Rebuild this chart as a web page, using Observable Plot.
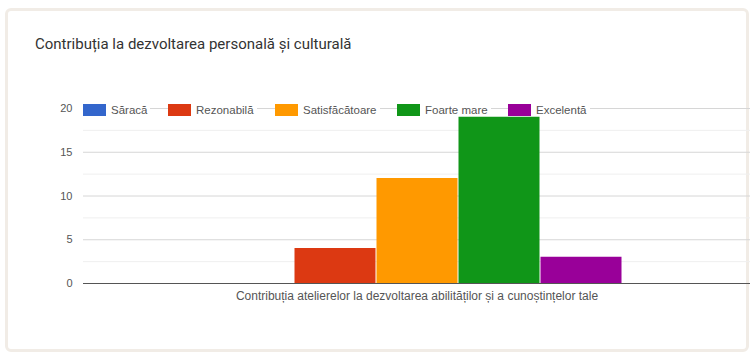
<!DOCTYPE html>
<html>
<head>
<meta charset="utf-8">
<script src="https://cdn.jsdelivr.net/npm/d3@7"></script>
<script src="https://cdn.jsdelivr.net/npm/@observablehq/plot@0.6"></script>
<style>
  html, body { margin: 0; padding: 0; background: #fff; width: 755px; height: 355px; overflow: hidden; font-family: Roboto, "Noto Sans", sans-serif; }
  #card { position: absolute; left: 5px; top: 8px; width: 738px; height: 338px; border: 3px solid #f1ece6; border-radius: 6px; background: #fff; }
  #title { position: absolute; left: 35px; top: 35px; font-size: 15px; color: #333; white-space: nowrap; z-index: 3; }
  #chart { position: absolute; left: 0; top: 0; z-index: 2; }
  #legend { position: absolute; top: 104px; left: 0; z-index: 4; font-size: 11.5px; color: #555; font-family: "Liberation Sans", Arial, sans-serif; }
  .item { position: absolute; display: flex; align-items: center; background: #fff; padding-right: 3px; white-space: nowrap; }
  .sw { width: 23px; height: 12px; margin-right: 5px; }
</style>
</head>
<body>
<div id="card"></div>
<div id="title">Contribuția la dezvoltarea personală și culturală</div>
<div id="chart"></div>
<div id="legend"></div>
<script>
const categories = ["Contribuția atelierelor la dezvoltarea abilităților și a cunoștințelor tale"];
const series = ["Săracă", "Rezonabilă", "Satisfăcătoare", "Foarte mare", "Excelentă"];
const values = [0, 4, 12, 19, 3];
const colors = ["#3366cc", "#dc3912", "#ff9900", "#109618", "#990099"];
const yTicks = [0, 5, 10, 15, 20];
const yMinorTicks = [2.5, 7.5, 12.5, 17.5];
const legendLeft = [83, 168, 275, 397, 508];

const data = series.map((s, i) => ({category: categories[0], series: s, value: values[i]}));

const chart = Plot.plot({
  width: 755,
  height: 340,
  marginLeft: 83,
  marginRight: 5,
  marginTop: 108,
  marginBottom: 57,
  style: {fontFamily: "'Liberation Sans', Arial, sans-serif", fontSize: "11px", color: "#555", background: "transparent"},
  fx: {domain: categories, padding: 0, label: null},
  x: {domain: series, axis: null, paddingInner: 0, paddingOuter: 1.56},
  y: {domain: [0, 20], ticks: yTicks, label: null, tickSize: 0, tickPadding: 11},
  color: {domain: series, range: colors},
  marks: [
    Plot.ruleY(yMinorTicks, {stroke: "#efefef", strokeWidth: 1, facet: "exclude"}),
    Plot.ruleY(yTicks.filter(d => d > 0), {stroke: "#d6d6d6", strokeWidth: 1, facet: "exclude"}),
    Plot.barY(data, {fx: "category", x: "series", y: "value", fill: "series", insetLeft: 0.5, insetRight: 0.5}),
    Plot.ruleY([0], {stroke: "#555", strokeWidth: 1.2, facet: "exclude"}),
    Plot.axisFx({anchor: "bottom", tickSize: 0, tickPadding: 8, fontSize: 12, label: null})
  ]
});
document.getElementById("chart").appendChild(chart);

const legend = document.getElementById("legend");
series.forEach((s, i) => {
  const it = document.createElement("div");
  it.className = "item";
  it.style.left = legendLeft[i] + "px";
  const sw = document.createElement("div");
  sw.className = "sw";
  sw.style.background = colors[i];
  const t = document.createElement("span");
  t.textContent = s;
  it.appendChild(sw);
  it.appendChild(t);
  legend.appendChild(it);
});
</script>
</body>
</html>
